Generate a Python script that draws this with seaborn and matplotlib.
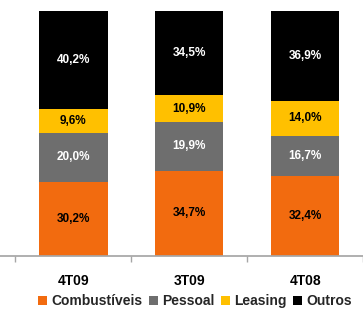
import numpy as np
import pandas as pd
import seaborn as sns
import matplotlib.pyplot as plt
from matplotlib.patches import Patch

# share of costs per quarter (%)
periods = ["4T09", "3T09", "4T08"]
series = ["Combustíveis", "Pessoal", "Leasing", "Outros"]
combustiveis = [30.2, 34.7, 32.4]
pessoal = [20.0, 19.9, 16.7]
leasing = [9.6, 10.9, 14.0]
outros = [40.2, 34.5, 36.9]

colors = ["#F26B0F", "#6E6E6E", "#FFC000", "#000000"]
text_colors = ["black", "white", "black", "white"]

sns.set_theme(style="white")
plt.rcParams["font.family"] = ["Liberation Sans", "DejaVu Sans"]

values = np.array([combustiveis, pessoal, leasing, outros])
cum = values.cumsum(axis=0)

fig = plt.figure(figsize=(3.63, 3.09), dpi=100)
ax = fig.add_axes([0, 0.1725, 1, 0.792])

# stacked bars: draw the cumulative totals from top layer down
for i in range(len(series) - 1, -1, -1):
    df = pd.DataFrame({"period": periods, "value": cum[i]})
    sns.barplot(data=df, x="period", y="value", color=colors[i],
                width=0.59, saturation=1, ax=ax, linewidth=0)

for i in range(len(series)):
    for j in range(len(periods)):
        mid = cum[i, j] - values[i, j] / 2
        ax.text(j, mid, f"{values[i, j]:.1f}%".replace(".", ","),
                ha="center", va="center", fontsize=8.5, fontweight="bold",
                color=text_colors[i])

ax.set_xlim(-0.633, 2.40)
ax.set_ylim(0, 100)
ax.set_xlabel("")
ax.set_ylabel("")
ax.set_yticks([])
for s in ["top", "right", "left"]:
    ax.spines[s].set_visible(False)
ax.spines["bottom"].set_color("#A6A6A6")
ax.set_xticks(range(len(periods)))
ax.set_xticklabels(periods, fontsize=10, fontweight="bold", color="black")
ax.tick_params(axis="x", which="major", length=0, pad=13)
ax.set_xticks([-0.5, 0.5, 1.5, 2.5], minor=True)
ax.tick_params(axis="x", which="minor", length=4, color="#A6A6A6",
               direction="out", bottom=True)

handles = [Patch(facecolor=c, edgecolor="none") for c in colors]
fig.legend(handles, series, loc="lower center", bbox_to_anchor=(0.537, -0.038),
           ncol=4, frameon=False, prop={"size": 10, "weight": "bold"},
           handlelength=0.62, handleheight=0.62, handletextpad=0.3,
           columnspacing=0.5)

plt.savefig("out.png", dpi=100)
